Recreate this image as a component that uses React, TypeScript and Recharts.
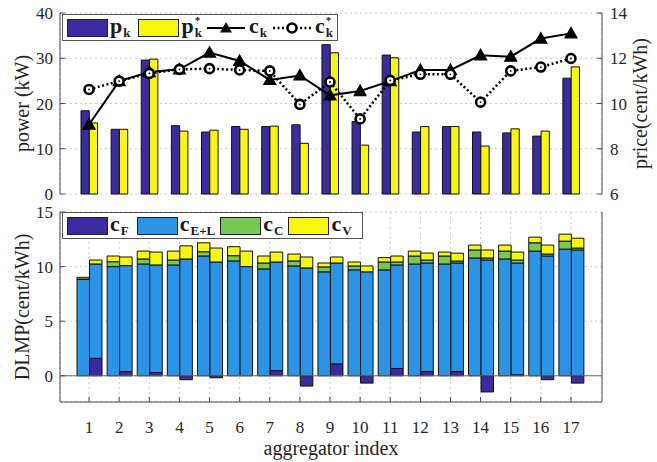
import React from "react";
import {
  Bar,
  BarChart,
  CartesianGrid,
  ComposedChart,
  Legend,
  Line,
  ReferenceLine,
  XAxis,
  YAxis,
} from "recharts";

// aggregator index 1..17
const aggregators = ["1", "2", "3", "4", "5", "6", "7", "8", "9", "10", "11", "12", "13", "14", "15", "16", "17"];

// top panel: power (kW)
const pk = [18.4, 14.3, 29.6, 15.1, 13.7, 14.9, 14.9, 15.3, 33.0, 16.0, 30.7, 13.7, 14.9, 13.7, 13.5, 12.8, 25.6];
const pkStar = [15.7, 14.3, 29.8, 13.9, 14.1, 14.3, 15.0, 11.2, 31.2, 10.8, 30.1, 14.9, 14.9, 10.6, 14.4, 13.9, 28.1];

// top panel: price (cent/kWh)
const ck = [9.07, 10.99, 11.39, 11.51, 12.25, 11.88, 11.04, 11.24, 10.36, 10.55, 10.99, 11.48, 11.48, 12.13, 12.07, 12.87, 13.1];
const ckStar = [10.62, 10.99, 11.33, 11.51, 11.54, 11.48, 11.44, 9.96, 10.95, 9.32, 11.02, 11.29, 11.29, 10.06, 11.44, 11.61, 11.99];

// bottom panel: DLMP components, left bar of each pair
const cF1 = [0, 0, 0, 0, 0, 0, 0, 0, 0, 0, 0, 0, 0, 0, 0, 0, 0];
const cEL1 = [8.82, 10.0, 10.24, 10.15, 10.97, 10.52, 9.79, 10.06, 9.52, 9.7, 9.7, 10.24, 10.24, 10.79, 10.7, 11.42, 11.6];
const cC1 = [0.05, 0.45, 0.46, 0.45, 0.39, 0.48, 0.54, 0.46, 0.45, 0.36, 0.72, 0.73, 0.73, 0.73, 0.72, 0.76, 0.73];
const cV1 = [0.15, 0.52, 0.72, 0.82, 0.82, 0.82, 0.64, 0.63, 0.36, 0.36, 0.4, 0.45, 0.36, 0.45, 0.55, 0.52, 0.64];

// bottom panel: right bar of each pair
const cF2 = [1.6, 0.39, 0.3, -0.36, -0.18, 0, 0.48, -0.94, 1.09, -0.67, 0.67, 0.39, 0.39, -1.48, 0.09, -0.36, -0.67];
const cEL2 = [8.64, 9.7, 9.85, 10.7, 10.42, 10.0, 9.94, 9.88, 9.24, 9.52, 9.48, 9.94, 9.94, 10.6, 10.24, 10.97, 11.52];
const cC2 = [0, 0, 0, 0, 0, 0, 0, 0, 0, 0, 0.27, 0.27, 0.18, 0.19, 0.27, 0.18, 0.18];
const cV2 = [0.36, 0.79, 1.18, 1.2, 1.28, 1.42, 0.91, 1.0, 0.55, 0.54, 0.55, 0.64, 0.72, 0.73, 0.73, 0.82, 0.9];

const powerTicks = [0, 10, 20, 30, 40];
const priceTicks = [6, 8, 10, 12, 14];
const dlmpTicks = [0, 5, 10, 15];

const topData = aggregators.map((name, i) => ({
  name,
  pk: pk[i],
  pkStar: pkStar[i],
  ck: ck[i],
  ckStar: ckStar[i],
}));

const bottomData = aggregators.map((name, i) => ({
  name,
  cF1: cF1[i],
  cEL1: cEL1[i],
  cC1: cC1[i],
  cV1: cV1[i],
  cF2: cF2[i],
  cEL2: cEL2[i],
  cC2: cC2[i],
  cV2: cV2[i],
}));

const serif = '"Liberation Serif", "Times New Roman", serif';
const DARK = "#3a2ba3";
const YELLOW = "#f7f70c";
const BLUE = "#2a95e6";
const GREEN = "#78c852";
const AXIS = "#4a4a4a";
const tickStyle = { fontFamily: serif, fontSize: 17, fill: "#262626" };
const titleStyle = { fontFamily: serif, fontSize: 20, fill: "#262626", textAnchor: "middle" as const };

const TriangleDot = (props: any) => {
  const { cx, cy, index } = props;
  if (cx == null || cy == null) return null;
  return (
    <path
      key={`tri-${index}`}
      d={`M${cx},${cy - 6} L${cx + 6},${cy + 4.5} L${cx - 6},${cy + 4.5} Z`}
      fill="#000"
      stroke="#000"
      strokeWidth={1.2}
    />
  );
};

const CircleDot = (props: any) => {
  const { cx, cy, index } = props;
  if (cx == null || cy == null) return null;
  return (
    <g key={`circ-${index}`}>
      <circle cx={cx} cy={cy} r={4.5} fill="#fff" stroke="#000" strokeWidth={2.6} />
      <circle cx={cx} cy={cy} r={0.9} fill="#000" />
    </g>
  );
};

// bold serif symbol with subscript and optional star above it
const Sym = ({ base, sub, star }: { base: string; sub: string; star?: boolean }) => (
  <span
    style={{
      fontFamily: serif,
      fontWeight: 700,
      fontSize: 22,
      display: "inline-flex",
      alignItems: "flex-start",
      lineHeight: "22px",
      color: "#1a1a1a",
    }}
  >
    <span>{base}</span>
    <span style={{ display: "inline-flex", flexDirection: "column", marginLeft: 1 }}>
      <span style={{ fontSize: 11, lineHeight: "11px", height: 11, visibility: star ? "visible" : "hidden" }}>*</span>
      <span style={{ fontSize: 13, lineHeight: "14px", height: 14 }}>{sub}</span>
    </span>
  </span>
);

const Swatch = ({ color }: { color: string }) => (
  <span
    style={{
      display: "inline-block",
      width: 39,
      height: 16,
      background: color,
      border: "1px solid #222",
      marginRight: 2,
    }}
  />
);

const LineIcon = ({ dotted, marker }: { dotted?: boolean; marker: "tri" | "circ" }) => (
  <svg width={40} height={18} style={{ marginRight: 3 }}>
    <line x1={1} y1={9} x2={39} y2={9} stroke="#000" strokeWidth={dotted ? 2.5 : 2} strokeDasharray={dotted ? "2 2.5" : undefined} />
    {marker === "tri" ? (
      <path d="M20,3 L26,13.5 L14,13.5 Z" fill="#000" />
    ) : (
      <circle cx={20} cy={9} r={4.5} fill="#fff" stroke="#000" strokeWidth={2.6} />
    )}
  </svg>
);

const boxStyle: React.CSSProperties = {
  display: "flex",
  alignItems: "center",
  height: 25,
  border: "1px solid #555",
  background: "#fff",
  paddingLeft: 4,
  boxSizing: "content-box",
};

const TopLegend = () => (
  <div style={boxStyle}>
    <Swatch color={DARK} />
    <Sym base="p" sub="k" />
    <span style={{ width: 8 }} />
    <Swatch color={YELLOW} />
    <Sym base="p" sub="k" star />
    <span style={{ width: 4 }} />
    <LineIcon marker="tri" />
    <Sym base="c" sub="k" />
    <span style={{ width: 5 }} />
    <LineIcon marker="circ" dotted />
    <Sym base="c" sub="k" star />
  </div>
);

const BottomLegend = () => (
  <div style={boxStyle}>
    <Swatch color={DARK} />
    <Sym base="c" sub="F" />
    <span style={{ width: 8 }} />
    <Swatch color={BLUE} />
    <Sym base="c" sub="E+L" />
    <span style={{ width: 5 }} />
    <Swatch color={GREEN} />
    <Sym base="c" sub="C" />
    <span style={{ width: 5 }} />
    <Swatch color={YELLOW} />
    <Sym base="c" sub="V" />
  </div>
);

const xPadding = { left: 14, right: 16 };

export default function App() {
  return (
    <div style={{ position: "absolute", left: 0, top: 0, width: 657, height: 462, background: "#fff" }}>
      <div style={{ position: "absolute", left: 0, top: 0 }}>
        <ComposedChart
          width={657}
          height={210}
          data={topData}
          margin={{ top: 13, right: 0, bottom: 16, left: 0 }}
          barGap={0}
        >
          <CartesianGrid stroke="#c8c8c8" strokeDasharray="2 3" />
          <XAxis
            dataKey="name"
            height={0}
            padding={xPadding}
            tick={false}
            tickSize={-5}
            stroke={AXIS}
          />
          <XAxis
            xAxisId="top"
            dataKey="name"
            orientation="top"
            height={0}
            padding={xPadding}
            tick={false}
            tickSize={-5}
            stroke={AXIS}
          />
          <YAxis
            width={60}
            domain={[0, 40]}
            ticks={powerTicks}
            tick={tickStyle}
            tickSize={-5}
            tickMargin={12}
            stroke={AXIS}
            label={{ value: "power (kW)", angle: -90, position: "insideLeft", offset: 22, style: titleStyle }}
          />
          <YAxis
            yAxisId="r"
            orientation="right"
            width={55}
            domain={[6, 14]}
            ticks={priceTicks}
            tick={tickStyle}
            tickSize={-5}
            tickMargin={13}
            stroke={AXIS}
            label={{ value: "price(cent/kWh)", angle: -90, position: "insideRight", offset: 17, style: titleStyle }}
          />
          <Legend
            layout="horizontal"
            verticalAlign="middle"
            align="center"
            content={<TopLegend />}
            wrapperStyle={{ top: 14, left: 62, width: 276, height: 27 }}
          />
          <Bar dataKey="pk" fill={DARK} stroke="#111" strokeWidth={1} barSize={8.3} isAnimationActive={false} />
          <Bar dataKey="pkStar" fill={YELLOW} stroke="#111" strokeWidth={1} barSize={8.3} isAnimationActive={false} />
          <Line
            yAxisId="r"
            dataKey="ck"
            stroke="#000"
            strokeWidth={2}
            dot={TriangleDot}
            activeDot={false}
            isAnimationActive={false}
          />
          <Line
            yAxisId="r"
            dataKey="ckStar"
            stroke="#000"
            strokeWidth={2.5}
            strokeDasharray="2 2.5"
            dot={CircleDot}
            activeDot={false}
            isAnimationActive={false}
          />
        </ComposedChart>
      </div>
      <div style={{ position: "absolute", left: 0, top: 200 }}>
        <BarChart
          width={657}
          height={262}
          data={bottomData}
          margin={{ top: 12, right: 0, bottom: 0, left: 0 }}
          barGap={0}
          stackOffset="sign"
        >
          <CartesianGrid stroke="#c8c8c8" strokeDasharray="2 3" />
          <XAxis
            dataKey="name"
            height={60}
            padding={xPadding}
            tick={tickStyle}
            tickSize={-5}
            tickMargin={24}
            stroke={AXIS}
            interval={0}
            label={{ value: "aggregator index", position: "insideBottom", offset: 7, style: titleStyle }}
          />
          <XAxis
            xAxisId="top"
            dataKey="name"
            orientation="top"
            height={0}
            padding={xPadding}
            tick={false}
            tickSize={-5}
            stroke={AXIS}
          />
          <YAxis
            width={60}
            type="number"
            domain={[-2.4, 15]}
            ticks={dlmpTicks}
            allowDataOverflow
            tick={tickStyle}
            tickSize={-5}
            tickMargin={12}
            stroke={AXIS}
            label={{ value: "DLMP(cent/kWh)", angle: -90, position: "insideLeft", offset: 22, style: titleStyle }}
          />
          <YAxis
            yAxisId="r"
            orientation="right"
            width={55}
            type="number"
            domain={[-2.4, 15]}
            ticks={dlmpTicks}
            allowDataOverflow
            tick={false}
            tickSize={-5}
            stroke={AXIS}
          />
          <Legend
            layout="horizontal"
            verticalAlign="middle"
            align="center"
            content={<BottomLegend />}
            wrapperStyle={{ top: 12, left: 62, width: 301, height: 27 }}
          />
          <ReferenceLine y={0} stroke="#666" strokeWidth={1} />
          <Bar dataKey="cF1" stackId="a" fill={DARK} stroke="#111" strokeWidth={1} barSize={12.5} isAnimationActive={false} />
          <Bar dataKey="cEL1" stackId="a" fill={BLUE} stroke="#111" strokeWidth={1} barSize={12.5} isAnimationActive={false} />
          <Bar dataKey="cC1" stackId="a" fill={GREEN} stroke="#111" strokeWidth={1} barSize={12.5} isAnimationActive={false} />
          <Bar dataKey="cV1" stackId="a" fill={YELLOW} stroke="#111" strokeWidth={1} barSize={12.5} isAnimationActive={false} />
          <Bar dataKey="cF2" stackId="b" fill={DARK} stroke="#111" strokeWidth={1} barSize={12.5} isAnimationActive={false} />
          <Bar dataKey="cEL2" stackId="b" fill={BLUE} stroke="#111" strokeWidth={1} barSize={12.5} isAnimationActive={false} />
          <Bar dataKey="cC2" stackId="b" fill={GREEN} stroke="#111" strokeWidth={1} barSize={12.5} isAnimationActive={false} />
          <Bar dataKey="cV2" stackId="b" fill={YELLOW} stroke="#111" strokeWidth={1} barSize={12.5} isAnimationActive={false} />
        </BarChart>
      </div>
    </div>
  );
}
